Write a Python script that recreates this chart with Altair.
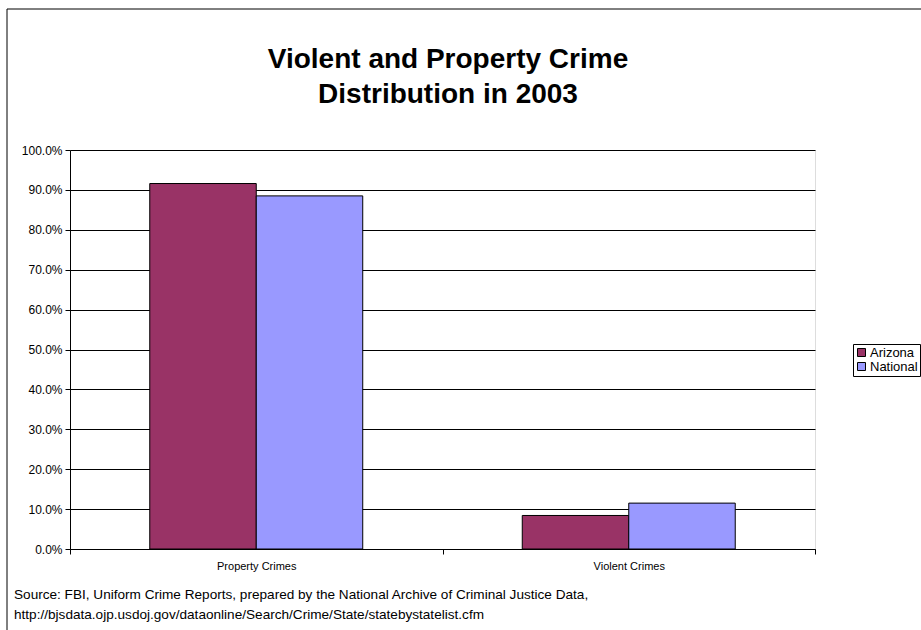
import altair as alt
import pandas as pd

categories = ["Property Crimes", "Violent Crimes"]
series = ["Arizona", "National"]
arizona = [0.916, 0.084]
national = [0.885, 0.115]
title_text = "Violent and Property Crime\nDistribution in 2003"
source_text = ("Source: FBI, Uniform Crime Reports, prepared by the National Archive of Criminal Justice Data,\n"
               "http://bjsdata.ojp.usdoj.gov/dataonline/Search/Crime/State/statebystatelist.cfm")

rows = []
for i, c in enumerate(categories):
    rows.append({"category": c, "region": "Arizona", "share": arizona[i]})
    rows.append({"category": c, "region": "National", "share": national[i]})
df = pd.DataFrame(rows)

W, H = 745, 399
FONT = "Liberation Sans"

bars = alt.Chart(df).mark_bar(stroke="black", strokeWidth=1).encode(
    x=alt.X("category:N", sort=categories, title=None,
            scale=alt.Scale(paddingInner=0, paddingOuter=0),
            axis=alt.Axis(labelAngle=0, labelFontSize=11, labelFont=FONT, labelColor="black",
                          domainColor="black", tickColor="black", tickSize=5,
                          tickBand="extent", labelPadding=6, grid=False)),
    xOffset=alt.XOffset("region:N", sort=series,
                        scale=alt.Scale(paddingInner=0, paddingOuter=0.749)),
    y=alt.Y("share:Q", title=None,
            scale=alt.Scale(domain=[0, 1], nice=False),
            axis=alt.Axis(format=".1%", values=[i / 10 for i in range(11)],
                          labelFontSize=12, labelFont=FONT, labelColor="black",
                          domainColor="black", tickColor="black", tickSize=5,
                          gridColor="black", gridOpacity=1, labelPadding=3)),
    color=alt.Color("region:N", sort=series, title=None,
                    scale=alt.Scale(domain=series, range=["#993366", "#9999FF"]),
                    legend=alt.Legend(orient="none", legendX=783, legendY=194,
                                      symbolType="square", symbolSize=64,
                                      symbolStrokeColor="black", symbolStrokeWidth=1,
                                      labelFontSize=13, labelFont=FONT, labelColor="black",
                                      strokeColor="black", padding=2, rowPadding=0,
                                      labelOffset=2, fillColor="white",
                                      labelLimit=300)),
)

one = pd.DataFrame({"a": [0]})

title = alt.Chart(one).mark_text(align="center", baseline="alphabetic", fontSize=28, font=FONT,
                                 fontWeight="bold", color="black", lineBreak="\n",
                                 lineHeight=35).encode(
    text=alt.value(title_text), x=alt.value(378), y=alt.value(-82)
)

source = alt.Chart(one).mark_text(align="left", baseline="alphabetic", fontSize=13.6,
                                  font=FONT, color="black", lineBreak="\n",
                                  lineHeight=20).encode(
    text=alt.value(source_text), x=alt.value(-56), y=alt.value(449)
)

frame = alt.Chart(one).mark_rect(fill=None, stroke="black", strokeWidth=1).encode(
    x=alt.value(-63), x2=alt.value(W + 200), y=alt.value(-141), y2=alt.value(H + 200)
)

chart = alt.layer(frame, bars, title, source).properties(
    width=W, height=H,
    padding={"left": 70, "top": 150, "right": 106, "bottom": 81},
    autosize=alt.AutoSizeParams(type="none"),
).configure_view(stroke="#808080", strokeWidth=1).configure(background="white")

chart.save("out.html", embed_options={"renderer": "svg", "actions": False})
